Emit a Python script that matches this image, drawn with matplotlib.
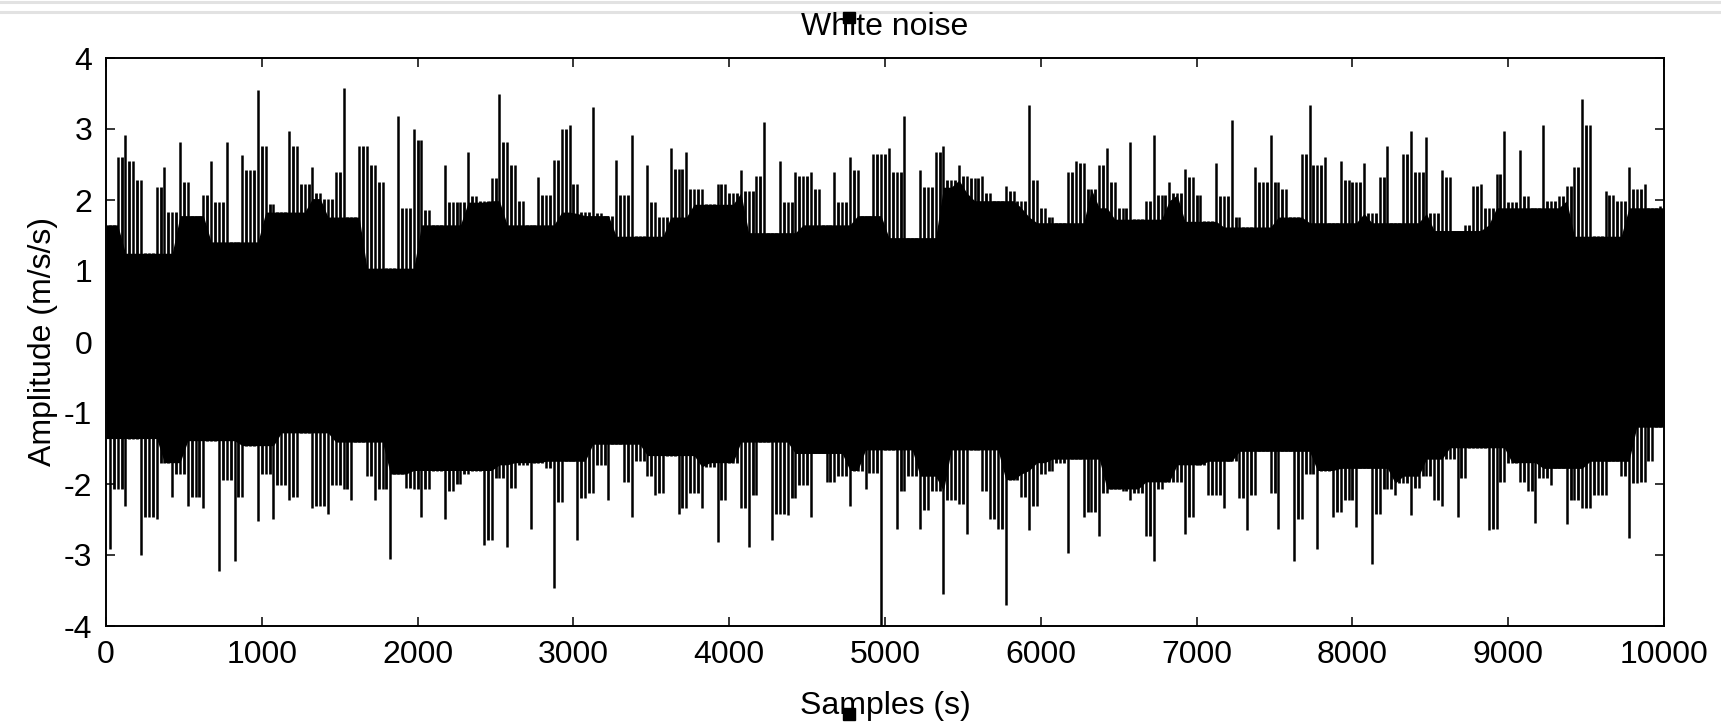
import numpy as np
import matplotlib
matplotlib.use("Agg")
import matplotlib.pyplot as plt
from matplotlib.lines import Line2D
from matplotlib.patches import Rectangle

# ---- data: per 50-sample bin, highest and lowest excursion ----
bin_width = 50
peak_hi = [
    1.65, 2.60, 2.92, 2.55, 2.28, 1.25, 2.18, 2.47, 1.83, 2.81,
    2.26, 1.78, 2.07, 2.55, 1.97, 2.81, 1.41, 2.63, 2.42, 3.55,
    2.76, 1.94, 1.83, 2.97, 2.76, 2.23, 2.47, 2.10, 2.02, 2.39,
    3.58, 1.76, 2.76,
    2.76, 2.49, 2.26, 1.04, 3.18, 1.89, 3.00, 2.84, 1.86, 1.65,
    2.49, 1.97, 1.97, 2.68, 2.05, 1.99, 2.31, 3.50, 2.81, 2.49,
    1.99, 1.65, 2.33, 2.07, 2.57, 3.00, 3.05, 2.23, 1.83, 3.31,
    1.81, 1.78, 2.57,
    2.07, 2.92, 1.49, 2.49, 1.97, 1.76, 2.73, 2.44, 2.68, 2.15,
    2.15, 1.94, 2.23, 2.23, 2.10, 2.42, 2.12, 2.34, 3.10, 1.54,
    2.55, 1.97, 2.39, 2.34, 2.39, 2.15, 1.65, 2.39, 1.97, 2.60,
    2.42, 1.78, 2.65,
    2.65, 2.73, 2.39, 3.18, 1.47, 2.42, 2.18, 2.68, 2.76, 2.28,
    2.49, 2.34, 2.31, 2.34, 2.10, 1.99, 2.20, 2.12, 1.99, 3.34,
    2.28, 1.89, 1.76, 1.68, 2.39, 2.55, 2.52, 2.15, 2.49, 2.73,
    2.26, 1.89, 2.81,
    1.73, 1.99, 2.92, 2.07, 2.26, 2.10, 2.44, 2.33, 2.07, 1.70,
    2.52, 2.05, 3.13, 1.76, 1.62, 2.47, 2.26, 2.92, 2.26, 2.15,
    1.76, 2.65, 3.34, 2.49, 2.60, 1.68, 2.55, 2.28, 2.26, 2.52,
    1.81, 2.33, 2.76, 1.68,
    2.65, 2.97, 2.39, 2.89, 1.81, 2.42, 2.33, 1.57, 1.65, 2.20,
    2.23, 1.89, 2.36, 2.97, 1.97, 2.70, 2.05, 1.89, 3.05, 1.99,
    2.05, 2.20, 2.47, 3.42, 3.05, 1.49, 2.12, 2.07, 1.99, 2.47,
    2.15, 2.23, 1.89, 1.91,
]
peak_lo = [
    -2.92, -2.07, -2.31, -1.36, -3.00, -2.47, -2.49, -1.70, -2.18, -1.86,
    -2.31, -2.18, -2.34, -1.39, -3.23, -1.94, -3.08, -2.18, -1.46, -2.52,
    -1.86, -2.49, -2.02, -2.23, -2.18, -1.28, -2.34, -2.31, -2.42, -2.02,
    -2.07, -2.23, -1.41,
    -1.89, -2.23, -2.07, -3.05, -1.86, -2.05, -2.07, -2.47, -2.07, -1.81,
    -2.49, -2.10, -2.00, -1.86, -1.81, -2.86, -2.79, -1.91, -2.89, -2.05,
    -1.73, -2.63, -1.70, -1.78, -3.47, -2.26, -1.68, -2.79, -2.20, -2.13,
    -1.73, -2.23, -1.44,
    -1.97, -2.47, -1.68, -1.89, -2.15, -2.13, -1.60, -2.42, -2.34, -2.13,
    -2.34, -1.76, -2.81, -2.23, -1.70, -2.34, -2.89, -2.15, -1.41, -2.79,
    -2.42, -2.44, -2.20, -2.02, -2.47, -1.57, -1.97, -1.97, -1.89, -2.31,
    -1.81, -2.07, -1.84,
    -4.00, -1.52, -2.63, -2.10, -1.89, -2.63, -2.36, -2.10, -3.55, -2.23,
    -2.28, -2.70, -1.52, -2.10, -2.49, -2.63, -3.71, -1.94, -2.18, -2.65,
    -2.31, -1.86, -1.81, -1.70, -2.97, -1.65, -2.47, -2.39, -2.73, -2.13,
    -2.07, -2.10, -2.23,
    -2.13, -2.73, -3.08, -2.07, -1.97, -1.97, -2.70, -2.47, -1.73, -2.15,
    -2.15, -2.34, -1.68, -2.20, -2.65, -2.15, -1.54, -2.13, -2.63, -1.54,
    -3.08, -2.49, -1.86, -2.92, -1.81, -2.47, -2.39, -2.23, -2.60, -1.78,
    -3.13, -2.42, -2.07, -2.15,
    -1.99, -2.44, -2.05, -1.89, -2.23, -2.31, -1.65, -2.47, -1.91, -1.49,
    -1.49, -2.65, -2.63, -1.97, -1.70, -1.97, -2.10, -2.55, -1.91, -2.02,
    -1.78, -2.57, -2.23, -2.34, -2.34, -2.15, -2.15, -1.68, -1.89, -2.76,
    -1.99, -1.97, -1.68, -1.20,
]
x_ticks = [0, 1000, 2000, 3000, 4000, 5000, 6000, 7000, 8000, 9000, 10000]
y_ticks = [-4, -3, -2, -1, 0, 1, 2, 3, 4]
title_text = "White noise"
xlabel_text = "Samples (s)"
ylabel_text = "Amplitude (m/s/s)"

hi = np.array(peak_hi)
lo = np.array(peak_lo)
n = len(hi)
xc = np.arange(n) * bin_width + bin_width / 2.0
xb = np.arange(1, n) * bin_width            # bin boundaries
bh = np.minimum(hi[:-1], hi[1:])             # shorter of the two neighbouring peaks
bl = np.maximum(lo[:-1], lo[1:])


def rolling(a, k, fn):
    p = k // 2
    ap = np.concatenate([np.repeat(a[0], p), a, np.repeat(a[-1], p)])
    return np.array([fn(ap[i:i + k]) for i in range(len(a))])


# solid core: lowest of the seven neighbouring peaks
core_hi = rolling(hi, 7, np.min)
core_lo = rolling(lo, 7, np.max)

plt.rcParams['font.family'] = ['Liberation Sans', 'DejaVu Sans']
plt.rcParams['axes.unicode_minus'] = False

W, H = 1721, 727
fig = plt.figure(figsize=(W / 100, H / 100), dpi=100)
ax = fig.add_axes([106 / W, 1 - 626 / H, (1664 - 106) / W, (626 - 58) / H])

xe = np.concatenate([[0], xc, [10000]])
ax.fill_between(xe, np.concatenate([[core_lo[0]], core_lo, [core_lo[-1]]]),
                np.concatenate([[core_hi[0]], core_hi, [core_hi[-1]]]),
                color='black', lw=0)
ax.vlines(xb, bl, bh, color='black', lw=2.0)
ax.vlines(xc, lo, hi, color='black', lw=1.8)

ax.set_xlim(0, 10000)
ax.set_ylim(-4, 4)
ax.set_xticks(x_ticks)
ax.set_yticks(y_ticks)
ax.tick_params(direction='in', length=6.5, width=1.1, top=True, right=True,
               labelsize=23, pad=10)
for s in ax.spines.values():
    s.set_linewidth(1.4)
ax.set_title(title_text, fontsize=23, pad=16.5)
ax.set_xlabel(xlabel_text, fontsize=23, labelpad=15)
ax.set_ylabel(ylabel_text, fontsize=23, labelpad=4)

# light grey bands at top of screenshot
fig.add_artist(Line2D([0, 1], [1 - 1.5 / H, 1 - 1.5 / H], color='#e2e2e2', lw=2.2, zorder=0))
fig.add_artist(Line2D([0, 1], [1 - 12 / H, 1 - 12 / H], color='#e2e2e2', lw=2.2, zorder=0))
# small black squares over title / xlabel
fig.add_artist(Rectangle((843 / W, 1 - 23 / H), 12 / W, 11 / H, color='black',
                         transform=fig.transFigure))
fig.add_artist(Rectangle((843 / W, 1 - 720 / H), 12 / W, 12 / H, color='black',
                         transform=fig.transFigure))

fig.savefig("out.png", dpi=100)
